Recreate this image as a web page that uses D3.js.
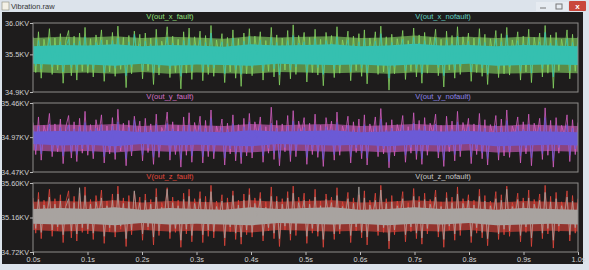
<!DOCTYPE html>
<html>
<head>
<meta charset="utf-8">
<script src="https://cdn.jsdelivr.net/npm/d3@7"></script>
<style>
  html, body { margin: 0; padding: 0; background: #dce3eb; }
  svg { display: block; }
</style>
</head>
<body>
<svg width="589" height="270"></svg>
<script>
// x axis
var timeTicks = [0, 0.1, 0.2, 0.3, 0.4, 0.5, 0.6, 0.7, 0.8, 0.9, 1.0];

// pane axis limits / tick labels
var xAxisKV = [34.9, 35.5, 36.0];
var yAxisKV = [34.47, 34.97, 35.46];
var zAxisKV = [34.72, 35.16, 35.60];

// dense part of each trace (KV), read every 0.05 s
var xFaultHi = [35.76,35.78,35.77,35.79,35.76,35.78,35.77,35.75,35.79,35.77,35.78,35.79,35.76,35.77,35.80,35.77,35.78,35.76,35.78,35.77,35.76];
var xFaultLo = [35.22,35.20,35.21,35.19,35.22,35.19,35.21,35.20,35.19,35.22,35.21,35.20,35.21,35.19,35.21,35.20,35.22,35.19,35.20,35.21,35.20];
var xNofaultHi = [35.63,35.65,35.64,35.66,35.63,35.65,35.64,35.62,35.66,35.64,35.65,35.66,35.63,35.64,35.67,35.64,35.65,35.63,35.65,35.64,35.63];
var xNofaultLo = [35.35,35.33,35.34,35.32,35.35,35.32,35.34,35.33,35.32,35.35,35.34,35.33,35.34,35.32,35.34,35.33,35.35,35.32,35.33,35.34,35.33];
var yFaultHi = [35.14,35.15,35.14,35.16,35.13,35.15,35.14,35.13,35.16,35.14,35.15,35.16,35.13,35.14,35.16,35.14,35.15,35.13,35.15,35.14,35.13];
var yFaultLo = [34.78,34.76,34.77,34.75,34.78,34.76,34.77,34.76,34.75,34.78,34.77,34.76,34.77,34.75,34.77,34.76,34.78,34.75,34.76,34.77,34.76];
var yNofaultHi = [35.05,35.06,35.05,35.07,35.04,35.06,35.05,35.04,35.07,35.05,35.06,35.07,35.04,35.05,35.07,35.05,35.06,35.04,35.06,35.05,35.04];
var yNofaultLo = [34.87,34.85,34.86,34.84,34.87,34.85,34.86,34.85,34.84,34.87,34.86,34.85,34.86,34.84,34.86,34.85,34.87,34.84,34.85,34.86,34.85];
var zFaultHi = [35.36,35.37,35.36,35.38,35.35,35.37,35.36,35.35,35.38,35.36,35.37,35.38,35.35,35.36,35.38,35.36,35.37,35.35,35.37,35.36,35.35];
var zFaultLo = [35.00,34.98,34.99,34.97,35.00,34.98,34.99,34.98,34.97,35.00,34.99,34.98,34.99,34.97,34.99,34.98,35.00,34.97,34.98,34.99,34.98];
var zNofaultHi = [35.27,35.28,35.27,35.29,35.26,35.28,35.27,35.26,35.29,35.27,35.28,35.29,35.26,35.27,35.29,35.27,35.28,35.26,35.28,35.27,35.26];
var zNofaultLo = [35.08,35.07,35.08,35.06,35.09,35.07,35.08,35.07,35.06,35.09,35.08,35.07,35.08,35.06,35.08,35.07,35.09,35.06,35.07,35.08,35.07];

// trace samples (KV), evenly over 0..1 s
var xFault = [35.78,35.21,35.86,35.12,35.74,35.45,35.91,35.18,35.76,35.25,35.83,35.04,35.72,35.88,35.16,35.79,35.09,35.84,35.23,35.93,
35.20,35.75,35.14,35.81,35.48,35.89,35.07,35.73,35.22,35.85,35.15,35.95,35.26,35.77,34.97,35.80,35.19,35.87,35.42,35.82,
35.11,35.84,35.24,35.76,35.02,35.90,35.17,35.71,35.50,35.94,35.13,35.79,35.21,35.74,34.95,35.86,35.20,35.92,35.10,35.78,
35.44,35.87,35.08,35.80,35.18,35.96,35.15,35.73,35.47,35.83,35.05,35.77,35.22,35.89,35.12,35.75,34.99,35.84,35.19,35.91,
35.16,35.79,35.46,35.86,35.09,35.72,35.23,35.93,35.14,35.81,35.01,35.76,35.25,35.88,35.11,35.97,35.18,35.80,35.49,35.85,
35.06,35.77,35.21,35.90,35.17,35.74,35.00,35.85,35.43,35.80,35.13,35.94,35.20,35.73,35.51,35.87,35.08,35.79,35.24,35.83,
35.15,35.89,35.03,35.76,35.45,35.86,35.18,35.95,35.22,35.78,34.93,35.82,35.19,35.75,35.48,35.88,35.10,35.72,35.23,35.92,
35.14,35.81,35.04,35.85,35.20,35.77,35.52,35.90,35.16,35.74,34.98,35.87,35.25,35.80,35.12,35.94,35.18,35.78,35.44,35.84,
35.07,35.76,35.21,35.91,35.15,35.82,35.02,35.75,35.47,35.88,35.13,35.83,35.19,35.93,35.17,35.73,35.50,35.86,35.09,35.79,
35.22,35.90,35.05,35.77,35.46,35.84,35.14,35.96,35.20,35.81,34.96,35.85,35.24,35.74,35.49,35.89,35.11,35.82,35.23,35.78];

var xNofault = [35.66,35.32,35.72,35.27,35.63,35.49,35.75,35.30,35.64,35.35,35.70,35.22,35.62,35.74,35.29,35.68,35.25,35.71,35.34,35.78,
35.31,35.65,35.26,35.69,35.50,35.73,35.21,35.61,35.33,35.72,35.28,35.76,35.36,35.64,35.16,35.70,35.30,35.82,35.47,35.67,
35.24,35.71,35.35,35.66,35.20,35.74,35.29,35.62,35.51,35.77,35.27,35.68,35.32,35.63,35.15,35.72,35.33,35.75,35.23,35.66,
35.48,35.73,35.22,35.69,35.30,35.84,35.28,35.62,35.50,35.70,35.19,35.67,35.34,35.76,35.26,35.64,35.18,35.71,35.31,35.79,
35.29,35.66,35.49,35.73,35.23,35.61,35.35,35.77,35.27,35.69,35.17,35.65,35.36,35.72,35.25,35.80,35.30,35.68,35.52,35.70,
35.21,35.65,35.33,35.75,35.29,35.63,35.18,35.72,35.48,35.67,35.26,35.78,35.32,35.62,35.53,35.73,35.22,35.66,35.35,35.70,
35.28,35.74,35.20,35.64,35.49,35.71,35.31,35.83,35.34,35.66,35.12,35.69,35.30,35.63,35.51,35.74,35.24,35.61,35.36,35.77,
35.27,35.68,35.19,35.72,35.33,35.65,35.52,35.76,35.29,35.62,35.16,35.73,35.37,35.67,35.25,35.79,35.31,35.66,35.48,35.71,
35.22,35.64,35.34,35.75,35.28,35.69,35.18,35.63,35.50,35.74,35.26,35.70,35.32,35.81,35.30,35.62,35.53,35.72,35.23,35.67,
35.35,35.76,35.20,35.65,35.49,35.70,35.27,35.85,35.33,35.68,35.14,35.73,35.36,35.63,35.51,35.75,35.24,35.69,35.34,35.66];

var yFault = [35.18,34.72,35.26,34.64,35.14,34.98,35.31,34.69,35.16,34.76,35.23,34.59,35.12,35.28,34.67,35.19,34.62,35.24,34.74,35.34,
34.71,35.15,34.66,35.22,34.99,35.29,34.60,35.13,34.73,35.25,34.65,35.37,34.77,35.17,34.56,35.21,34.70,35.27,34.95,35.20,
34.63,35.24,34.75,35.16,34.58,35.30,34.68,35.11,35.00,35.33,34.64,35.19,34.72,35.14,34.54,35.26,34.71,35.32,34.61,35.18,
34.96,35.27,34.60,35.21,34.69,35.36,34.66,35.13,34.98,35.23,34.57,35.17,34.73,35.29,34.63,35.15,34.59,35.24,34.70,35.31,
34.67,35.19,34.97,35.26,34.61,35.12,34.74,35.40,34.65,35.21,34.56,35.16,34.76,35.28,34.62,35.35,34.69,35.20,35.01,35.25,
34.58,35.17,34.72,35.30,34.68,35.14,34.55,35.25,34.96,35.20,34.64,35.33,34.71,35.13,34.99,35.27,34.60,35.19,34.75,35.23,
34.66,35.29,34.57,35.16,34.97,35.26,34.69,35.38,34.73,35.18,34.53,35.22,34.70,35.15,35.00,35.28,34.61,35.12,34.74,35.32,
34.65,35.21,34.58,35.25,34.71,35.17,35.02,35.30,34.67,35.14,34.55,35.27,34.76,35.20,34.63,35.34,34.69,35.18,34.96,35.24,
34.59,35.16,34.72,35.31,34.66,35.22,34.57,35.15,34.98,35.28,34.64,35.23,34.70,35.36,34.68,35.13,35.01,35.26,34.60,35.19,
34.73,35.30,34.56,35.17,34.97,35.24,34.65,35.39,34.71,35.21,34.54,35.25,34.74,35.14,35.00,35.29,34.62,35.22,34.72,35.18];

var yNofault = [35.08,34.79,35.13,34.73,35.05,34.93,35.16,34.76,35.06,34.81,35.11,34.70,35.04,35.14,34.75,35.09,34.72,35.12,34.80,35.18,
34.77,35.07,34.74,35.10,34.94,35.15,34.69,35.03,34.79,35.13,34.73,35.19,34.82,35.06,34.66,35.11,34.76,35.22,34.92,35.08,
34.71,35.12,34.81,35.07,34.68,35.16,34.75,35.04,34.95,35.17,34.72,35.09,34.78,35.05,34.65,35.13,34.79,35.15,34.70,35.08,
34.93,35.14,34.69,35.10,34.77,35.24,34.74,35.04,34.94,35.11,34.67,35.08,34.80,35.16,34.73,35.06,34.68,35.12,34.76,35.19,
34.75,35.07,34.93,35.14,34.70,35.03,34.81,35.17,34.74,35.10,34.66,35.06,34.82,35.13,34.72,35.20,34.77,35.09,34.96,35.11,
34.68,35.06,34.79,35.15,34.75,35.05,34.65,35.12,34.93,35.08,34.72,35.18,34.78,35.04,34.95,35.14,34.69,35.07,34.81,35.11,
34.74,35.15,34.67,35.05,34.94,35.12,34.76,35.23,34.80,35.07,34.62,35.10,34.77,35.04,34.95,35.14,34.71,35.03,34.82,35.17,
34.73,35.09,34.66,35.13,34.79,35.06,34.96,35.16,34.75,35.04,34.64,35.14,34.83,35.08,34.72,35.19,34.77,35.07,34.93,35.12,
34.69,35.05,34.80,35.15,34.74,35.10,34.66,35.04,34.94,35.14,34.72,35.11,34.78,35.21,34.76,35.03,34.96,35.13,34.70,35.08,
34.81,35.16,34.67,35.06,34.93,35.11,34.73,35.25,34.79,35.09,34.63,35.14,34.82,35.04,34.95,35.15,34.71,35.10,34.80,35.07];

var zFault = [35.41,34.96,35.48,34.89,35.38,35.19,35.52,34.92,35.40,34.99,35.45,34.84,35.36,35.50,34.90,35.43,34.86,35.47,34.97,35.55,
34.95,35.39,34.88,35.44,35.20,35.51,34.83,35.37,34.98,35.46,34.91,35.56,35.01,35.41,34.79,35.44,34.94,35.49,35.17,35.42,
34.87,35.46,35.00,35.39,34.81,35.53,34.93,35.35,35.21,35.54,34.89,35.42,34.97,35.38,34.78,35.47,34.95,35.52,34.85,35.40,
35.16,35.49,34.84,35.43,34.92,35.57,34.90,35.37,35.19,35.45,34.80,35.41,34.98,35.50,34.88,35.38,34.82,35.46,34.94,35.53,
34.91,35.41,35.18,35.48,34.86,35.36,34.99,35.55,34.89,35.43,34.79,35.40,35.00,35.49,34.87,35.56,34.93,35.42,35.20,35.47,
34.83,35.39,34.96,35.52,34.92,35.37,34.78,35.46,35.17,35.42,34.88,35.54,34.95,35.36,35.21,35.48,34.84,35.41,34.99,35.45,
34.90,35.50,34.81,35.38,35.18,35.47,34.93,35.57,34.97,35.40,34.76,35.44,34.94,35.37,35.22,35.49,34.85,35.35,34.98,35.53,
34.89,35.43,34.82,35.47,34.95,35.39,35.23,35.51,34.91,35.36,34.78,35.48,35.00,35.42,34.87,35.55,34.93,35.40,35.18,35.45,
34.84,35.38,34.96,35.52,34.90,35.44,34.80,35.37,35.19,35.49,34.88,35.45,34.94,35.56,34.92,35.35,35.22,35.47,34.85,35.41,
34.97,35.51,34.79,35.39,35.17,35.46,34.89,35.57,34.95,35.43,34.77,35.48,34.98,35.36,35.20,35.50,34.86,35.44,34.96,35.40];

var zNofault = [35.34,35.02,35.39,34.97,35.32,35.16,35.42,35.00,35.33,35.04,35.37,34.94,35.30,35.40,34.99,35.35,34.95,35.54,35.03,35.44,
35.01,35.33,34.96,35.36,35.17,35.41,34.92,35.31,35.03,35.38,34.98,35.46,35.05,35.34,34.89,35.36,35.00,35.50,35.15,35.35,
34.95,35.38,35.04,35.33,34.91,35.42,34.99,35.29,35.18,35.52,34.97,35.35,35.02,35.31,34.87,35.39,35.01,35.43,34.93,35.34,
35.16,35.40,34.94,35.36,35.00,35.49,34.98,35.30,35.17,35.37,34.90,35.35,35.04,35.44,34.96,35.32,34.91,35.38,35.00,35.45,
34.97,35.34,35.16,35.40,34.93,35.29,35.03,35.43,34.96,35.37,34.89,35.33,35.05,35.41,34.95,35.47,35.00,35.35,35.18,35.38,
34.92,35.33,35.02,35.42,34.98,35.31,34.88,35.39,35.16,35.35,34.95,35.44,35.01,35.30,35.18,35.40,34.93,35.34,35.04,35.55,
34.97,35.41,34.91,35.32,35.17,35.38,34.99,35.51,35.03,35.34,34.86,35.36,35.00,35.31,35.19,35.40,34.94,35.29,35.04,35.43,
34.96,35.36,34.90,35.39,35.02,35.33,35.19,35.42,34.98,35.30,34.88,35.41,35.05,35.35,34.95,35.46,35.00,35.34,35.16,35.38,
34.92,35.32,35.03,35.43,34.97,35.37,34.89,35.31,35.17,35.40,34.95,35.38,35.01,35.52,34.99,35.30,35.18,35.39,34.93,35.35,
35.04,35.41,34.90,35.33,35.16,35.38,34.96,35.48,35.02,35.36,34.87,35.40,35.05,35.31,35.18,35.42,34.94,35.37,35.03,35.34];

var panes = [
    {top: 23, ticks: xAxisKV, digits: 1,
     traces: [{name: "V(out_x_fault)", values: xFault, hi: xFaultHi, lo: xFaultLo, color: "#86d562", label: "#94e07c", lx: 170, fill: 0.6},
              {name: "V(out_x_nofault)", values: xNofault, hi: xNofaultHi, lo: xNofaultLo, color: "#35c0b0", label: "#62d2c4", lx: 443, fill: 1}]},
    {top: 103, ticks: yAxisKV, digits: 2,
     traces: [{name: "V(out_y_fault)", values: yFault, hi: yFaultHi, lo: yFaultLo, color: "#d35ec2", label: "#d472c8", lx: 170, fill: 0.6},
              {name: "V(out_y_nofault)", values: yNofault, hi: yNofaultHi, lo: yNofaultLo, color: "#6b5ad6", label: "#8c84e6", lx: 443, fill: 1}]},
    {top: 183, ticks: zAxisKV, digits: 2,
     traces: [{name: "V(out_z_fault)", values: zFault, hi: zFaultHi, lo: zFaultLo, color: "#e1453b", label: "#e44a3c", lx: 170, fill: 0.6},
              {name: "V(out_z_nofault)", values: zNofault, hi: zNofaultHi, lo: zNofaultLo, color: "#a8a3a0", label: "#c9c9c9", lx: 443, fill: 1}]}
];

var svg = d3.select("svg"),
    left = 33, right = 578, paneH = 69;

var font = "'Liberation Sans', Arial, sans-serif";

// window chrome
svg.append("rect").attr("width", 589).attr("height", 270).attr("fill", "#dce3eb");
svg.append("rect").attr("x", 2).attr("y", 12).attr("width", 581).attr("height", 252).attr("fill", "#1e1c1c");

svg.append("rect").attr("x", 2).attr("y", 2).attr("width", 7).attr("height", 8)
    .attr("fill", "#f4f1e6").attr("stroke", "#8a8a7a").attr("stroke-width", 0.6);
svg.append("text").attr("x", 11).attr("y", 9).attr("font-family", font).attr("font-size", 7.5)
    .attr("fill", "#333").text("Vibration.raw");

svg.append("rect").attr("x", 536).attr("y", 2).attr("width", 32).attr("height", 9).attr("fill", "#e6ebf1");
svg.append("line").attr("x1", 540).attr("x2", 546).attr("y1", 8).attr("y2", 8).attr("stroke", "#777");
svg.append("rect").attr("x", 556).attr("y", 4).attr("width", 6).attr("height", 5).attr("fill", "none").attr("stroke", "#777");
svg.append("rect").attr("x", 569).attr("y", 1).attr("width", 17).attr("height", 10).attr("rx", 1).attr("fill", "#c9473c");
svg.append("text").attr("x", 577.5).attr("y", 9).attr("text-anchor", "middle").attr("font-family", font)
    .attr("font-size", 8).attr("font-weight", "bold").attr("fill", "#fff").text("x");

var x = d3.scaleLinear().domain([0, 1]).range([left, right]);

panes.forEach(function(p) {
    var y = d3.scaleLinear().domain(d3.extent(p.ticks)).range([p.top + paneH, p.top]);
    var g = svg.append("g");
    var clip = "clip" + p.top;

    g.append("clipPath").attr("id", clip)
        .append("rect").attr("x", left).attr("y", p.top).attr("width", right - left).attr("height", paneH);

    p.traces.forEach(function(t) {
        var n = t.values.length, m = t.hi.length;
        var line = d3.line()
            .x(function(d, i) { return x(i / (n - 1)); })
            .y(function(d) { return y(d); });
        var band = d3.area()
            .x(function(d, i) { return x(i / (m - 1)); })
            .y0(function(d, i) { return y(t.lo[i]); })
            .y1(function(d) { return y(d); });

        g.append("path")
            .attr("clip-path", "url(#" + clip + ")")
            .attr("d", band(t.hi))
            .attr("fill", t.color)
            .attr("fill-opacity", t.fill);
        g.append("path")
            .attr("clip-path", "url(#" + clip + ")")
            .attr("d", line(t.values))
            .attr("fill", "none")
            .attr("stroke", t.color)
            .attr("stroke-width", 0.8);

        g.append("text").attr("x", t.lx).attr("y", p.top - 4).attr("text-anchor", "middle")
            .attr("font-family", font).attr("font-size", 7.6).attr("fill", t.label).text(t.name);
    });

    g.append("rect").attr("x", left).attr("y", p.top).attr("width", right - left).attr("height", paneH)
        .attr("fill", "none").attr("stroke", "#8e8c8a").attr("stroke-width", 1);

    var ax = g.append("g").attr("transform", "translate(" + left + ",0)")
        .call(d3.axisLeft(y).tickValues(p.ticks).tickSize(3).tickPadding(1)
            .tickFormat(function(d) { return d3.format("." + p.digits + "f")(d) + "KV"; }));
    ax.select(".domain").remove();
    ax.selectAll("line").attr("stroke", "#bbb");
    ax.selectAll("text").attr("fill", "#d0d0d0").attr("font-family", font).attr("font-size", 7.3);
});

var bottom = panes[2].top + paneH;
var xa = svg.append("g").attr("transform", "translate(0," + bottom + ")")
    .call(d3.axisBottom(x).tickValues(timeTicks).tickSize(3).tickPadding(2)
        .tickFormat(function(d) { return d3.format(".1f")(d) + "s"; }));
xa.select(".domain").remove();
xa.selectAll("line").attr("stroke", "#bbb");
xa.selectAll("text").attr("fill", "#d0d0d0").attr("font-family", font).attr("font-size", 7.3);
</script>
</body>
</html>
